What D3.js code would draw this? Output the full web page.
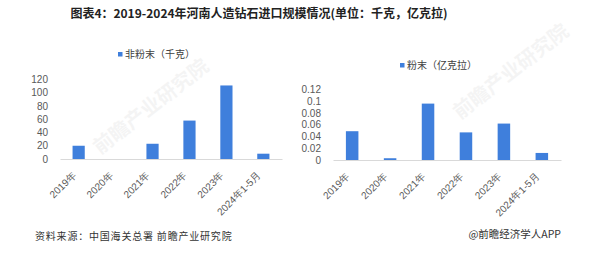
<!DOCTYPE html>
<html>
<head>
<meta charset="utf-8">
<script src="https://cdn.jsdelivr.net/npm/d3@7"></script>
<style>
  body { margin: 0; background: #fff; }
  svg { display: block; font-family: "Noto Sans CJK SC", "Microsoft YaHei", sans-serif; }
</style>
</head>
<body>
<svg id="chart" width="592" height="256"></svg>
<script>
// data
const years = ["2019年", "2020年", "2021年", "2022年", "2023年", "2024年1-5月"];
const nonPowder = [20, 0, 23, 58, 111, 8];          // 千克
const powder = [0.049, 0.003, 0.096, 0.047, 0.062, 0.012]; // 亿克拉
const leftTicks = [0, 20, 40, 60, 80, 100, 120];
const rightTicks = [0, 0.02, 0.04, 0.06, 0.08, 0.1, 0.12];

const barColor = "#3f7fdc";
const svg = d3.select("#chart");

// title
svg.append("text")
  .attr("x", 259).attr("y", 18)
  .attr("text-anchor", "middle")
  .attr("font-size", 12).attr("font-weight", "bold")
  .attr("fill", "#222")
  .text("图表4：2019-2024年河南人造钻石进口规模情况(单位：千克，亿克拉)");

// faint watermark
function watermark(x, y) {
  svg.append("text")
    .attr("transform", `translate(${x},${y}) rotate(-38)`)
    .attr("font-size", 20).attr("font-weight", "bold")
    .attr("fill", "#000").attr("opacity", 0.04)
    .text("前瞻产业研究院");
}
watermark(100, 155);
watermark(460, 120);

function drawChart(opts) {
  const { x0, x1, y0, y1, values, ticks, legendX, legendY, legend, fmt } = opts;

  const x = d3.scaleBand().domain(years).range([x0, x1]).paddingInner(0.67).paddingOuter(0.34);
  const y = d3.scaleLinear().domain([0, ticks[ticks.length - 1]]).range([y0, y1]);

  // y axis labels
  const yAxis = svg.append("g")
    .attr("transform", `translate(${x0},0)`)
    .call(d3.axisLeft(y).tickValues(ticks).tickFormat(fmt).tickSize(0).tickPadding(12));
  yAxis.select(".domain").remove();
  yAxis.selectAll("text").attr("font-size", 10).attr("fill", "#595959")
    .attr("font-family", "Liberation Sans, Arial, sans-serif");

  // bars
  svg.append("g").selectAll("rect")
    .data(values)
    .join("rect")
    .attr("x", (d, i) => x(years[i]))
    .attr("y", d => y(d))
    .attr("width", x.bandwidth())
    .attr("height", d => y0 - y(d))
    .attr("fill", barColor);

  // x axis
  const xAxis = svg.append("g")
    .attr("transform", `translate(0,${y0})`)
    .call(d3.axisBottom(x).tickSize(0));
  xAxis.select(".domain").attr("stroke", "#d9d9d9");
  xAxis.selectAll("text")
    .attr("font-size", 10).attr("fill", "#595959")
    .attr("text-anchor", "end")
    .attr("x", 0).attr("y", 0).attr("dy", 0)
    .attr("transform", "translate(-2,17) rotate(-45)");

  // legend
  svg.append("rect")
    .attr("x", legendX).attr("y", legendY - 2)
    .attr("width", 4.5).attr("height", 4.5)
    .attr("fill", barColor);
  svg.append("text")
    .attr("x", legendX + 7).attr("y", legendY)
    .attr("dy", "0.35em")
    .attr("font-size", 10).attr("fill", "#404040")
    .text(legend);
}

drawChart({
  x0: 60, x1: 282, y0: 159, y1: 79.5,
  values: nonPowder, ticks: leftTicks,
  legendX: 118, legendY: 54, legend: "非粉末（千克）",
  fmt: d3.format("d")
});

drawChart({
  x0: 333, x1: 561, y0: 160, y1: 89.5,
  values: powder, ticks: rightTicks,
  legendX: 400, legendY: 65, legend: "粉末（亿克拉）",
  fmt: d => d === 0 ? "0" : String(+d.toFixed(2))
});

// footer
svg.append("text")
  .attr("x", 35).attr("y", 236).attr("dy", "0.35em")
  .attr("font-size", 10).attr("fill", "#333")
  .attr("letter-spacing", 0.8)
  .text("资料来源：中国海关总署 前瞻产业研究院");
svg.append("text")
  .attr("x", 561).attr("y", 234).attr("dy", "0.35em")
  .attr("text-anchor", "end")
  .attr("font-size", 10.5).attr("fill", "#333")
  .text("@前瞻经济学人APP");
</script>
</body>
</html>
